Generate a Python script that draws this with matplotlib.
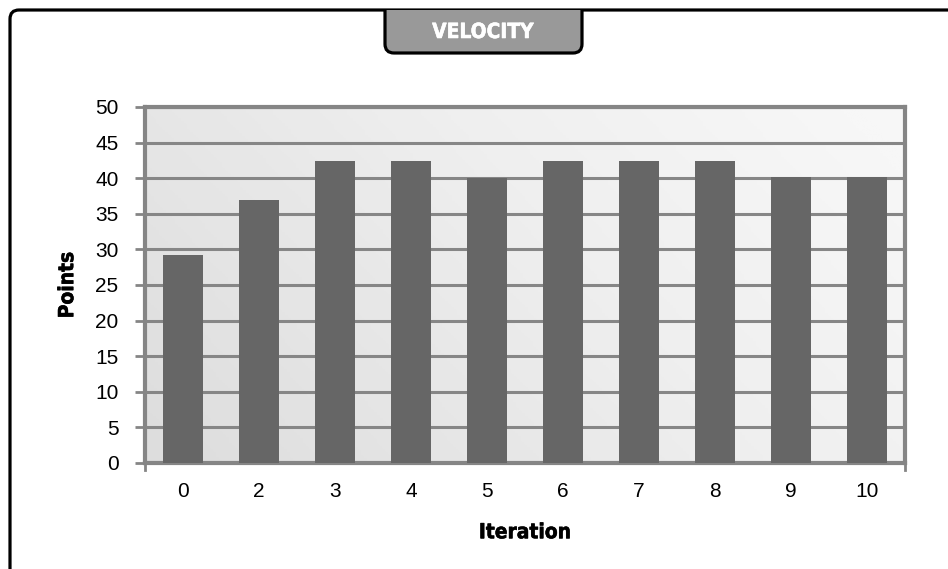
import matplotlib.pyplot as plt
import matplotlib.patheffects as pe
import numpy as np
from matplotlib.path import Path
from matplotlib.patches import PathPatch

# Velocity per iteration
iterations = ['0', '2', '3', '4', '5', '6', '7', '8', '9', '10']
points = [29.2, 37, 42.4, 42.4, 40, 42.4, 42.4, 42.4, 40.2, 40.2]

W, H = 948, 569
fig = plt.figure(figsize=(W / 100, H / 100), dpi=100)
fig.patch.set_facecolor('white')

narrow = ['Liberation Sans Narrow', 'DejaVu Sans']
plain = ['Liberation Sans', 'DejaVu Sans']


def px(x, y):
    # pixel position (from top-left) to inches for dpi_scale_trans
    return (x / 100, (H - y) / 100)


def heavy(color):
    # thicken the condensed bold labels a little
    return [pe.withStroke(linewidth=0.4, foreground=color)]


# outer frame: rounded top-left corner, open to the right and bottom
r = 9
frame_verts = [px(10, H + 5), px(10, 10 + r), px(10, 10), px(10 + r, 10), px(W + 5, 10)]
frame_codes = [Path.MOVETO, Path.LINETO, Path.CURVE3, Path.CURVE3, Path.LINETO]
fig.add_artist(PathPatch(Path(frame_verts, frame_codes), facecolor='none',
                         edgecolor='black', lw=2.3, transform=fig.dpi_scale_trans))

# title tab hanging from the frame
tl, tr, tb, tt, tr_ = 385, 582, 53, 10, 9
tab_verts = [px(tl, tt), px(tl, tb - tr_), px(tl, tb), px(tl + tr_, tb),
             px(tr - tr_, tb), px(tr, tb), px(tr, tb - tr_), px(tr, tt), px(tl, tt)]
tab_codes = [Path.MOVETO, Path.LINETO, Path.CURVE3, Path.CURVE3,
             Path.LINETO, Path.CURVE3, Path.CURVE3, Path.LINETO, Path.CLOSEPOLY]
fig.add_artist(PathPatch(Path(tab_verts, tab_codes), facecolor='#999999',
                         edgecolor='none', transform=fig.dpi_scale_trans))
fig.add_artist(PathPatch(Path(tab_verts[:8], tab_codes[:8]), facecolor='none',
                         edgecolor='black', lw=2.3, transform=fig.dpi_scale_trans))
fig.text(483 / W, 1 - 32 / H, 'VELOCITY', color='white', fontsize=15,
         fontweight='bold', family=narrow, fontstretch='condensed',
         ha='center', va='center', path_effects=heavy('white'))

ax = fig.add_axes([145 / W, 1 - 463 / H, 760 / W, 356 / H])

# diagonal light-gray gradient behind the bars
gx, gy = np.meshgrid(np.linspace(0, 1, 256), np.linspace(0, 1, 128))
grad = 0.7 * gx + 0.3 * gy
ax.imshow(grad, cmap='Greys_r', vmin=-4.5, vmax=1.35, extent=[0, 1, 0, 1],
          transform=ax.transAxes, aspect='auto', origin='lower', zorder=0)

x = np.arange(len(iterations))
ax.bar(x, points, width=0.53, color='#666666', zorder=3)

ax.set_xlim(-0.5, len(iterations) - 0.5)
ax.set_ylim(0, 50)
ax.set_yticks(np.arange(0, 51, 5))
ax.set_xticks(x)
ax.set_xticklabels(iterations)
ax.yaxis.grid(True, color='#868686', lw=2.2, zorder=1)
ax.set_axisbelow(False)
for gl in ax.get_ygridlines():
    gl.set_zorder(1)

for side in ['left', 'right', 'top', 'bottom']:
    ax.spines[side].set_color('#858585')
    ax.spines[side].set_linewidth(3)
ax.tick_params(axis='y', length=7, width=2, color='#858585', pad=12, labelsize=15)
ax.tick_params(axis='x', length=0, pad=14, labelsize=15)
for lab in ax.get_xticklabels() + ax.get_yticklabels():
    lab.set_family(plain)

# end ticks on the category axis
for xe in (-0.5, len(iterations) - 0.5):
    ax.plot([xe, xe], [0, -1.0], color='#858585', lw=2, clip_on=False, zorder=5)

ax.set_ylabel('Points', fontsize=15, fontweight='bold', family=narrow,
              fontstretch='condensed', labelpad=13, path_effects=heavy('black'))
ax.set_xlabel('Iteration', fontsize=15, fontweight='bold', family=narrow,
              fontstretch='condensed', labelpad=15, path_effects=heavy('black'))

fig.savefig('out.png', dpi=100)
